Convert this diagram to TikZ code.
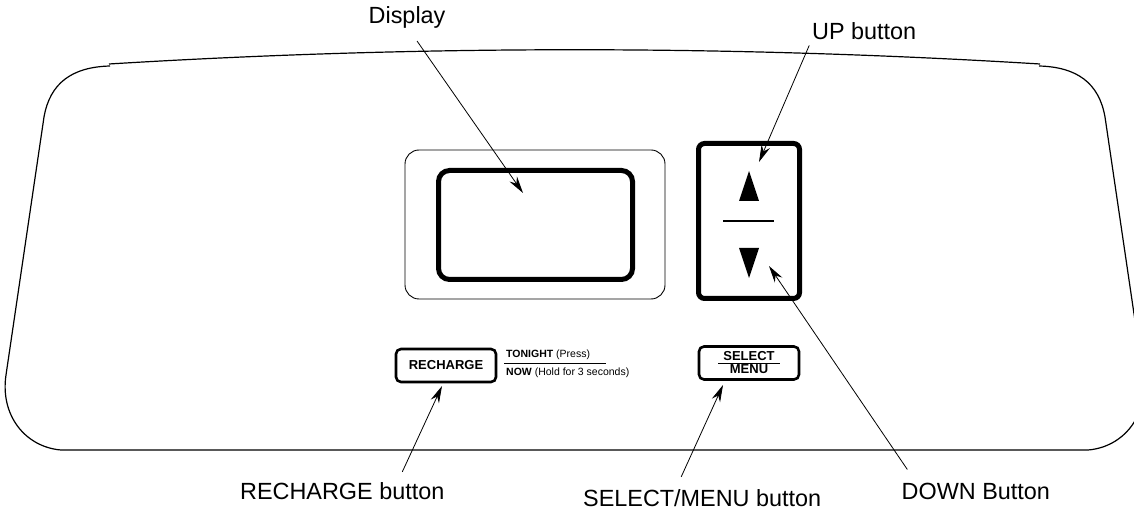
\documentclass[tikz,border=0pt]{standalone}
\usepackage{fontspec}
\setmainfont{Liberation Sans}
\usetikzlibrary{arrows.meta}
\tikzset{
  callout/.style  = {anchor=base west, inner sep=0pt, font=\fontsize{23.4}{26}\selectfont},
  pointer/.style  = {-{Stealth[length=17pt,width=9pt]}, line width=0.8pt},
  outline/.style  = {line width=1.2pt},
  keybox/.style   = {draw, line width=2.6pt, rounded corners=5pt, minimum width=100pt,
                     minimum height=33pt, inner sep=0pt, align=center,
                     font=\bfseries\fontsize{13}{14}\selectfont},
  legend/.style   = {anchor=west, inner sep=0pt, font=\fontsize{10.5}{12}\selectfont},
  heavy/.style    = {line width=5pt, rounded corners=11pt}
}
\begin{document}
\begin{tikzpicture}[x=1pt,y=-1pt]
\useasboundingbox (0,0) rectangle (1134,510);

% panel outline, its right side runs off the page
\begin{scope}
  \clip (0,0) rectangle (1134,510);
  \draw[outline] (109,64) .. controls (419,45) and (730,45) .. (1040,64);
  \draw[outline] (110,66) .. controls (72,67) and (50,83) .. (44,117) -- (6,375)
    .. controls (0,415) and (25,447) .. (61,450) -- (1088,450)
    .. controls (1124,447) and (1149,415) .. (1143,375) -- (1105,117)
    .. controls (1099,83) and (1077,67) .. (1039,66);
\end{scope}

% display
\draw[line width=0.9pt, rounded corners=14pt] (405,150) rectangle (665,299);
\draw[heavy] (438.5,170.5) rectangle (632.5,279.5);

% up and down keys
\draw[heavy, rounded corners=6pt] (698.5,143.5) rectangle (799.5,298.5);
\fill (749,171) -- (759,201) -- (739,201) -- cycle;
\fill (739,248) -- (759,248) -- (749,278) -- cycle;
\draw[line width=1.6pt] (723,221) -- (774,221);

% small keys
\node[keybox] (recharge) at (446,365.5) {RECHARGE};
\node[keybox] (select) at (749,363) {SELECT\\[-1pt]MENU};
\draw[line width=1pt] (718,363) -- (780,363);
\node[legend] (tonight) at (506,355) {\textbf{TONIGHT} (Press)};
\node[legend] (now) at (506,373) {\textbf{NOW} (Hold for 3 seconds)};
\draw[line width=0.8pt] (504,363) -- (606,363);

% labels
\node[callout] (lbldisplay)  at (368.5,24) {Display};
\node[callout] (lblup)       at (812,40)   {UP button};
\node[callout] (lblrecharge) at (240,499)  {RECHARGE button};
\node[callout] (lblselect)   at (583,506)  {SELECT/MENU button};
\node[callout] (lbldown)     at (901.5,499) {DOWN Button};

\coordinate (tipdisplay)  at (523,193);
\coordinate (tipup)       at (759,162);
\coordinate (tipdown)     at (769,266);
\coordinate (tiprecharge) at (442,386);
\coordinate (tipselect)   at (723,385);

\foreach \from/\dx/\dy/\to in {lbldisplay.south/10/-12/tipdisplay, lblup.south/-55/-5/tipup,
                               lbldown.north/-68.5/13/tipdown, lblrecharge.north/60/10/tiprecharge,
                               lblselect.north/-21/12/tipselect}
  \draw[pointer] ([xshift=\dx pt,yshift=\dy pt]\from) -- (\to);

\end{tikzpicture}
\end{document}
